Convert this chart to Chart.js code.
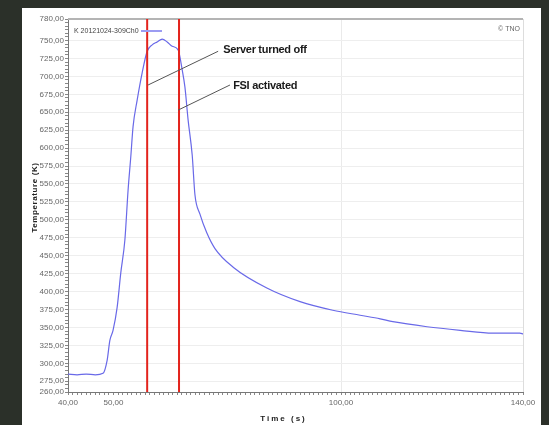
<!DOCTYPE html>
<html lang="en">
<head>
    <meta charset="UTF-8">
    <title>Temperature vs Time</title>
    <script src="https://cdn.jsdelivr.net/npm/chart.js"></script>
    <style>
        html, body { margin: 0; padding: 0; }
        body { width: 549px; height: 425px; background: #2b3029; position: relative; overflow: hidden; }
        #panel { position: absolute; left: 22px; top: 8px; width: 519px; height: 417px; background: #fff; }
        #chart { display: block; }
    </style>
</head>
<body>
    <div id="panel"><canvas id="chart" width="519" height="417"></canvas></div>

    <script>
        const times = [40, 42, 44, 46, 47.7, 48.6, 49.2, 49.9, 50.8, 51.6, 52.5, 53.2, 53.8, 54.3, 55.2, 56.3, 57.4,
                       58.5, 59.6, 60.7, 61.8, 62.9, 64.2, 65.1, 65.7, 66.4, 67.3, 67.9, 69.0, 70.5, 72.3, 76.3,
                       83.7, 91.0, 98.2, 104.2, 108.6, 111.4, 118.9, 126.2, 133.4, 139.3, 140];
        const temps = [285, 284, 285, 284, 286, 304, 332, 346, 378, 426, 472, 541, 588, 630, 667, 705, 735,
                       744, 748, 752, 748, 742, 737, 709, 685, 639, 590, 535, 508, 482, 460, 434,
                       405, 386, 374, 367, 362, 358, 351, 346, 342, 342, 341];
        const seriesName = 'K 20121024-309Ch0';

        const xLabels = [40, 50, 100, 140];
        const yLabels = [260, 275, 300, 325, 350, 375, 400, 425, 450, 475, 500, 525, 550, 575, 600,
                         625, 650, 675, 700, 725, 750, 780];
        const markers = [57.4, 64.4]; // server off, FSI activated
        const notes = [
            { text: 'Server turned off', at: [74.1, 737], from: [57.6, 688], to: [73.0, 735] },
            { text: 'FSI activated', at: [76.3, 687], from: [64.2, 653], to: [75.6, 688] }
        ];

        const fmt = v => v.toFixed(2).replace('.', ',');
        const tickFont = { family: "'Liberation Sans Narrow', 'Arial Narrow', 'Liberation Sans', Arial, sans-serif", size: 8 };

        const extras = {
            id: 'extras',
            afterDraw(chart) {
                const { ctx, chartArea: a, scales: { x, y } } = chart;
                ctx.save();
                // frame
                ctx.strokeStyle = '#b4b4b4';
                ctx.lineWidth = 2;
                ctx.beginPath(); ctx.moveTo(a.left, a.top); ctx.lineTo(a.right, a.top); ctx.stroke();
                ctx.strokeStyle = '#dddddd';
                ctx.lineWidth = 1;
                ctx.beginPath(); ctx.moveTo(a.right + 0.5, a.top); ctx.lineTo(a.right + 0.5, a.bottom); ctx.stroke();

                // red markers
                ctx.strokeStyle = '#e3231c';
                ctx.lineWidth = 2;
                markers.forEach(t => {
                    const px = x.getPixelForValue(t);
                    ctx.beginPath(); ctx.moveTo(px, a.top); ctx.lineTo(px, a.bottom); ctx.stroke();
                });

                // notes with leader lines
                notes.forEach(n => {
                    ctx.strokeStyle = '#555';
                    ctx.lineWidth = 1;
                    ctx.beginPath();
                    ctx.moveTo(x.getPixelForValue(n.from[0]), y.getPixelForValue(n.from[1]));
                    ctx.lineTo(x.getPixelForValue(n.to[0]), y.getPixelForValue(n.to[1]));
                    ctx.stroke();
                    ctx.fillStyle = '#1a1a1a';
                    ctx.font = "bold 11px 'Liberation Sans Narrow', 'Arial Narrow', 'Liberation Sans', Arial, sans-serif";
                    ctx.letterSpacing = '-0.3px';
                    ctx.textAlign = 'left';
                    ctx.textBaseline = 'middle';
                    ctx.fillText(n.text, x.getPixelForValue(n.at[0]), y.getPixelForValue(n.at[1]));
                });
                ctx.letterSpacing = '0px';

                // legend
                ctx.font = "7px 'Liberation Sans Narrow', 'Liberation Sans', Arial, sans-serif";
                ctx.fillStyle = '#444';
                ctx.textBaseline = 'middle';
                ctx.fillText(seriesName, a.left + 6, a.top + 12);
                ctx.strokeStyle = '#9c9cf2';
                ctx.lineWidth = 2;
                ctx.beginPath(); ctx.moveTo(a.left + 73, a.top + 12); ctx.lineTo(a.left + 94, a.top + 12); ctx.stroke();

                ctx.textAlign = 'right';
                ctx.fillStyle = '#666';
                ctx.fillText('\u00a9 TNO', a.right - 3, a.top + 10);

                // axis titles
                ctx.fillStyle = '#222';
                ctx.font = "bold 8px 'Liberation Sans', Arial, sans-serif";
                ctx.letterSpacing = '2px';
                ctx.textAlign = 'center';
                ctx.fillText('Time (s)', (a.left + a.right) / 2 - 12, a.bottom + 27);
                ctx.letterSpacing = '0.6px';
                ctx.translate(13, (a.top + a.bottom) / 2 - 8);
                ctx.rotate(-Math.PI / 2);
                ctx.fillText('Temperature (K)', 0, 0);
                ctx.restore();
            }
        };

        new Chart(document.getElementById('chart'), {
            type: 'line',
            data: {
                datasets: [{
                    label: seriesName,
                    data: times.map((t, i) => ({ x: t, y: temps[i] })),
                    borderColor: 'rgb(105,105,232)',
                    borderWidth: 1.2,
                    pointRadius: 0,
                    cubicInterpolationMode: 'monotone',
                    fill: false
                }]
            },
            options: {
                responsive: false,
                animation: false,
                layout: { padding: { top: 11, right: 18, left: 0, bottom: 0 } },
                plugins: { legend: { display: false }, tooltip: { enabled: false } },
                scales: {
                    x: {
                        type: 'linear',
                        min: 40, max: 140,
                        afterFit: s => { s.height = 33; },
                        afterBuildTicks: s => {
                            const t = [];
                            for (let v = 40; v <= 140; v++) t.push({ value: v });
                            s.ticks = t;
                        },
                        ticks: {
                            autoSkip: false, maxRotation: 0, padding: 3,
                            font: tickFont, color: '#666',
                            callback: v => xLabels.includes(v) ? fmt(v) : ''
                        },
                        grid: {
                            color: c => c.tick && c.tick.value === 100 ? '#eaeaea' : 'transparent',
                            tickColor: '#888',
                            tickLength: 3
                        },
                        border: { color: '#777' }
                    },
                    y: {
                        min: 260, max: 780,
                        afterFit: s => { s.width = 46; },
                        afterBuildTicks: s => {
                            const t = [];
                            for (let v = 260; v <= 780; v += 5) t.push({ value: v });
                            s.ticks = t;
                        },
                        ticks: {
                            autoSkip: false, padding: 1,
                            font: tickFont, color: '#666',
                            callback: v => yLabels.includes(v) ? fmt(v) : ''
                        },
                        grid: {
                            color: c => c.tick && yLabels.includes(c.tick.value) && c.tick.value > 260 ? '#eeeeee' : 'transparent',
                            tickColor: '#888',
                            tickLength: 3
                        },
                        border: { color: '#777' }
                    }
                }
            },
            plugins: [extras]
        });
    </script>
</body>
</html>
